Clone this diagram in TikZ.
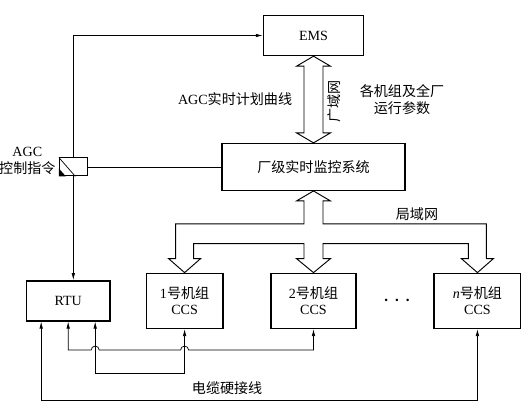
\documentclass[tikz,border=0pt]{standalone}
\usepackage{fontspec}
\setmainfont{Noto Sans CJK SC}
\newfontfamily\latin{Liberation Serif}
\usepackage{tikz}
\usetikzlibrary{arrows.meta,positioning,calc}

\begin{document}
\begin{tikzpicture}[
    x=0.03cm, y=-0.03cm,
    box/.style={rectangle, draw, line width=1.2pt, align=center,
                font=\fontsize{12pt}{14pt}\selectfont},
    ccs/.style={box, minimum width=2.5cm, minimum height=1.65cm},
    relaybox/.style={rectangle, draw, line width=0.8pt, minimum width=0.84cm,
                minimum height=0.54cm},
    lbl/.style={align=center, inner sep=1pt, font=\fontsize{12pt}{15pt}\selectfont},
    arrow/.style={-{Latex[length=6pt,width=3pt]}, line width=0.6pt},
    cable/.style={{Latex[length=6pt,width=3pt]}-{Latex[length=6pt,width=3pt]},
                line width=0.6pt},
    bus/.style={line width=0.8pt, line join=miter},
  ]
    \useasboundingbox (0,0) rectangle (527,413);

    \node[box, minimum width=3cm, minimum height=1.2cm] at (313.5,35.5) (ems) {\latin EMS};
    \node[box, minimum width=5.5cm, minimum height=1.4cm, below=2.6cm of ems] (sys) {厂级实时监控系统};
    \node[ccs, minimum width=2.55cm, below=2.45cm of sys] (ccs2) {{\latin 2}号机组\\{\latin CCS}};
    \node[ccs, minimum width=2.3cm, left=1.4cm of ccs2]  (ccs1) {{\latin 1}号机组\\{\latin CCS}};
    \node[ccs, minimum width=2.6cm, right=2.3cm of ccs2] (ccsn) {{\latin\itshape n}号机组\\{\latin CCS}};
    \node[box, minimum width=2.5cm, minimum height=1.2cm, left=1.05cm of ccs1] (rtu) {\latin RTU};
    \node[relaybox, left=4cm of sys] (relay) {};
    \node[font=\fontsize{20pt}{20pt}\selectfont] at ($(ccs2.east)!0.5!(ccsn.west)+(2,0)$) (dots) {$\cdots$};

    \node[lbl, anchor=east] at ($(ems.south)!0.5!(sys.north)+(-20,0)$) (plan) {{\latin AGC}实时计划曲线};
    \node[lbl, rotate=90] at ($(ems.south)!0.5!(sys.north)+(20.5,1.5)$) (wan) {广域网};
    \node[lbl] at ($(ems.south)!0.5!(sys.north)+(88.5,0)$) (param) {各机组及全厂\\运行参数};
    \node[lbl, anchor=east] at ($(relay.west)+(-2,-6)$) (cmd) {{\latin AGC}\\控制指令};
    \node[lbl] at ($(sys.south)+(103.5,23)$) (lan) {局域网};
    \node[lbl] at ($(ccs1.south)+(42.5,59)$) (wire) {电缆硬接线};

    \draw[bus] (ems.south) -- ++(-17,10) -- ++(7.5,0) -- ($(sys.north)+(-9.5,-10)$) -- ++(-7.5,0)
      -- (sys.north) -- ++(17,-10) -- ++(-7.5,0) -- ($(ems.south)+(9.5,10)$) -- ++(7.5,0) -- cycle;
    \draw[bus] (sys.south) -- ++(-17,10) -- ++(7.5,0) -- ++(0,23)
      -| ($(ccs1.north)+(-9,-14)$) -- ++(-7,0) -- (ccs1.north) -- ++(16,-14) -- ++(-7,0)
      |- ($(ccs2.north)+(-9.5,-29)$) -- ++(0,15) -- ++(-7.5,0) -- (ccs2.north) -- ++(17,-14)
      -- ++(-7.5,0) -- ++(0,-15)
      -| ($(ccsn.north)+(-9,-14)$) -- ++(-7,0) -- (ccsn.north) -- ++(16,-14) -- ++(-7,0)
      |- ($(sys.south)+(9.5,33)$) -- ++(0,-23) -- ++(7.5,0) -- cycle;

    \draw[arrow] (relay.north) |- (ems.west);
    \draw[arrow] (relay.south) -- (relay.south |- rtu.north);
    \draw[line width=0.6pt] (relay.east) -- (sys.west);
    \draw[line width=0.6pt] (relay.north west) -- ($(relay.south)+(2,0)$);
    \fill (relay.south west) -- ++(0,-8) -- ++(7,8) -- cycle;

    \draw[cable] (rtu.south) -- ($(rtu.south |- ccs1.south)+(0,21)$) -- ++(23,0)
      arc[start angle=180, end angle=0, radius=0.12cm] -- ($(ccs1.south)+(-4,21)$)
      arc[start angle=180, end angle=0, radius=0.12cm] -| (ccs2.south);
    \draw[cable] ($(rtu.south)+(27,0)$) -- ($(rtu.south |- ccs1.south)+(27,44)$) -| (ccs1.south);
    \draw[cable] ($(rtu.south)+(-27,0)$) -- ($(rtu.south |- ccs1.south)+(-27,71)$) -| (ccsn.south);
  \end{tikzpicture}
\end{document}
